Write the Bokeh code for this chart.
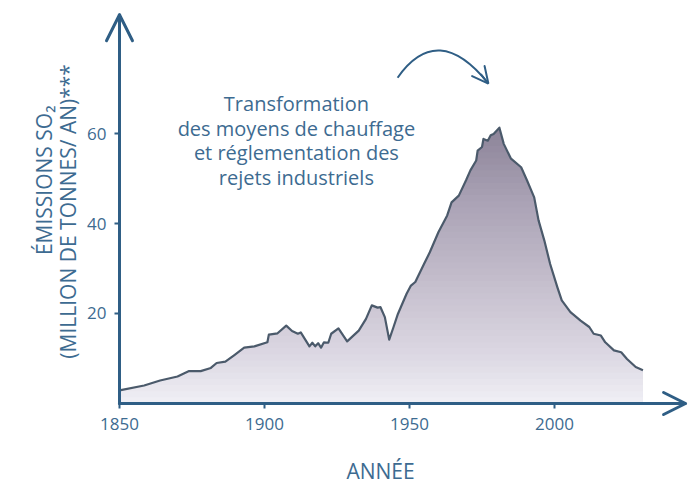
import numpy as np
from bokeh.plotting import figure
from bokeh.models import Range1d, FixedTicker, Label, Arrow, OpenHead
from bokeh.embed import file_html
from bokeh.resources import INLINE

# ---- data ----
years = [1850, 1858.5, 1864, 1870, 1874, 1878, 1881.5, 1883.5, 1886.5, 1889.5,
         1893, 1896.5, 1901, 1901.5, 1904.5, 1907.5, 1909.5, 1911.5, 1912.5, 1915.5,
         1916.5, 1917.5, 1918.5, 1919.5, 1920.5, 1922, 1923, 1925.5, 1928.5, 1932.5,
         1935, 1937, 1939, 1940, 1941.5, 1943, 1944.5, 1946, 1947, 1949,
         1950.5, 1952, 1955, 1957, 1960, 1963, 1964.5, 1967, 1969.5, 1971,
         1973, 1973.5, 1975, 1975.5, 1977, 1978, 1979, 1981, 1982.5, 1985,
         1988.5, 1990.5, 1993, 1994.5, 1996.5, 1998.5, 2001, 2002.5, 2005.5, 2009,
         2012, 2013.5, 2016, 2017.5, 2020.5, 2023, 2025, 2028, 2030.5]
so2 = [2.9, 4.0, 5.1, 6.0, 7.2, 7.2, 7.9, 9.0, 9.3, 10.7,
       12.4, 12.7, 13.6, 15.3, 15.6, 17.3, 16.1, 15.5, 15.8, 12.7,
       13.5, 12.7, 13.4, 12.4, 13.6, 13.5, 15.5, 16.7, 13.8, 16.2,
       18.8, 21.8, 21.3, 21.4, 19.2, 14.2, 17.0, 19.9, 21.4, 24.4,
       26.2, 27.0, 31.0, 33.6, 38.1, 41.8, 44.7, 46.2, 49.6, 51.8,
       54.0, 56.2, 57.0, 58.8, 58.4, 59.6, 59.9, 61.3, 57.7, 54.4,
       52.5, 49.6, 45.8, 40.7, 36.2, 31.0, 25.8, 22.9, 20.3, 18.4,
       17.0, 15.5, 15.1, 13.6, 11.8, 11.4, 9.9, 8.1, 7.4]
x_ticks = [1850, 1900, 1950, 2000]
y_ticks = [20, 40, 60]
x_title = "ANNÉE"
y_title_1 = "ÉMISSIONS SO₂"
y_title_2 = "(MILLION DE TONNES/ AN)***"
note_lines = ["Transformation", "des moyens de chauffage",
              "et réglementation des", "rejets industriels"]

# ---- style ----
AXIS = "#2f5e85"
TEXT = "#3d6b91"
OUTLINE = "#4b5a6b"
FONT = "Open Sans"

# visible range of the whole canvas (frame covers the full picture)
XR = (1808.97, 2046.55)
YR = (-18.67, 89.56)
X_ORIGIN, Y_ORIGIN = 1850, 0
X_TIP, Y_TIP = 2045.2, 86.4

p = figure(width=689, height=487, output_backend="svg", toolbar_location=None,
           x_range=Range1d(*XR), y_range=Range1d(*YR), min_border=0)
p.outline_line_color = None
p.grid.grid_line_color = None
p.background_fill_color = "white"
p.border_fill_color = "white"

p.xaxis.fixed_location = Y_ORIGIN
p.yaxis.fixed_location = X_ORIGIN
p.xaxis.bounds = (X_ORIGIN, X_TIP)
p.yaxis.bounds = (Y_ORIGIN, Y_TIP)
for ax, ticks in ((p.xaxis, x_ticks), (p.yaxis, y_ticks)):
    ax.ticker = FixedTicker(ticks=ticks)
    ax.axis_line_color = AXIS
    ax.axis_line_width = 3
    ax.axis_line_cap = "round"
    ax.major_tick_line_color = AXIS
    ax.major_tick_line_width = 2
    ax.major_tick_in = 0
    ax.major_tick_out = 5
    ax.minor_tick_line_color = None
    ax.major_label_text_color = TEXT
    ax.major_label_text_font = FONT
    ax.major_label_text_font_size = "17px"
p.xaxis.major_label_standoff = 10
p.yaxis.major_label_standoff = 8

# ---- gradient area (layered bands, dark on top, light at bottom) ----
xs = np.linspace(years[0], years[-1], 1500)
ys = np.interp(xs, years, so2)
stop_v = [0, 10, 25, 45, 62]
stop_rgb = np.array([(240, 239, 245), (221, 217, 228), (199, 193, 207),
                     (170, 162, 181), (139, 130, 151)], dtype=float)
top = max(so2)
levels = np.linspace(top, 0.0, 46)[:-1]
step = levels[0] - levels[1]
for t in levels:
    v = max(t - step / 2, 0)
    rgb = [int(round(np.interp(v, stop_v, stop_rgb[:, k]))) for k in range(3)]
    col = "#%02x%02x%02x" % tuple(rgb)
    p.varea(x=xs, y1=0, y2=np.minimum(ys, t), fill_color=col)

p.line(years, so2, line_color=OUTLINE, line_width=2.2, line_join="round")

# ---- axis arrow heads ----
p.add_layout(Arrow(end=OpenHead(size=26, line_color=AXIS, line_width=3, line_cap="round"),
                   x_start=X_ORIGIN, y_start=Y_TIP - 6, x_end=X_ORIGIN, y_end=Y_TIP,
                   line_color=AXIS, line_width=3))
p.add_layout(Arrow(end=OpenHead(size=22, line_color=AXIS, line_width=3, line_cap="round"),
                   x_start=X_TIP - 8, y_start=Y_ORIGIN, x_end=X_TIP, y_end=Y_ORIGIN,
                   line_color=AXIS, line_width=3))

# ---- annotation text ----
note_x = 1911.0
note_y = [66.7, 61.1, 55.8, 50.2]
for txt, ny in zip(note_lines, note_y):
    p.add_layout(Label(x=note_x, y=ny, text=txt, text_align="center",
                       text_baseline="middle", text_color=TEXT,
                       text_font=FONT, text_font_size="20px"))

# curved arrow pointing to the peak
ax0, ay0 = 1945.9, 72.4
axc, ayc = 1959.7, 85.1
ax1, ay1 = 1977.2, 71.1
p.quadratic(x0=[ax0], y0=[ay0], x1=[ax1], y1=[ay1], cx=[axc], cy=[ayc],
            line_color=AXIS, line_width=2)
p.add_layout(Arrow(end=OpenHead(size=16, line_color=AXIS, line_width=2, line_cap="round"),
                   x_start=ax1 - 0.15 * (ax1 - axc), y_start=ay1 - 0.15 * (ay1 - ayc),
                   x_end=ax1, y_end=ay1, line_color=AXIS, line_width=2))

# ---- axis titles ----
p.add_layout(Label(x=1940.0, y=-14.9, text=x_title, text_align="center",
                   text_baseline="middle", text_color=TEXT, text_font=FONT,
                   text_font_size="21px"))
p.add_layout(Label(x=1823.8, y=49.6, text=y_title_1, angle=np.pi / 2,
                   text_align="center", text_baseline="middle", text_color=TEXT,
                   text_font=FONT, text_font_size="21px"))
p.add_layout(Label(x=1832.4, y=42.7, text=y_title_2, angle=np.pi / 2,
                   text_align="center", text_baseline="middle", text_color=TEXT,
                   text_font=FONT, text_font_size="21px"))

open("out.html", "w").write(file_html(p, INLINE))
